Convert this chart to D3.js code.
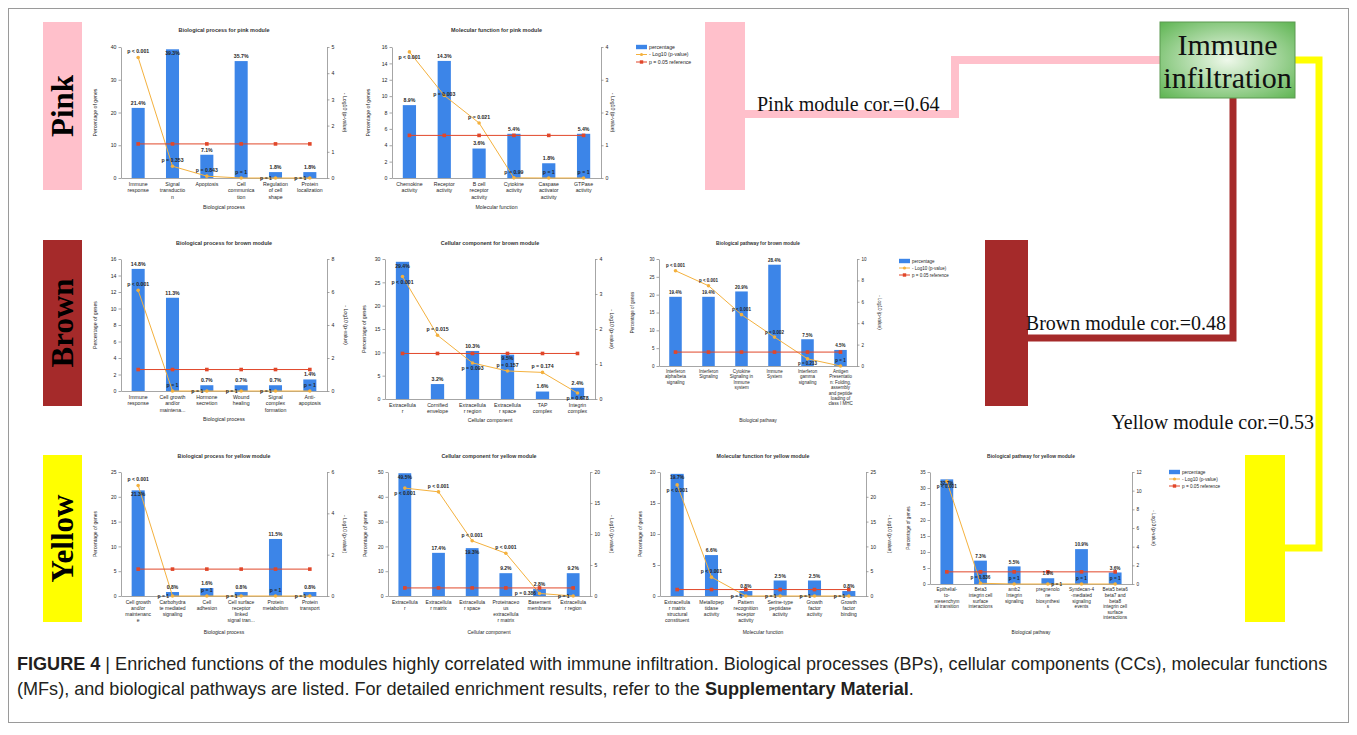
<!DOCTYPE html>
<html>
<head>
<meta charset="utf-8">
<script src="https://cdn.jsdelivr.net/npm/d3@7"></script>
<style>
  body { margin: 0; background: #fff; }
  svg { display: block; }
</style>
</head>
<body>
<svg id="fig" width="1357" height="735"></svg>
<script>
// ---------- data ----------
const pinkBpCats = ["Immune\nresponse", "Signal\ntransductio\nn", "Apoptosis", "Cell\ncommunica\ntion", "Regulation\nof cell\nshape", "Protein\nlocalization"];
const pinkBpPct = [21.4, 39.3, 7.1, 35.7, 1.8, 1.8];
const pinkBpLogP = [4.6, 0.45, 0.07, 0, 0, 0];
const pinkBpPText = ["p < 0.001", "p = 0.353", "p = 0.843", "p = 1", "p = 1", "p = 1"];

const pinkMfCats = ["Chemokine\nactivity", "Receptor\nactivity", "B cell\nreceptor\nactivity", "Cytokine\nactivity", "Caspase\nactivator\nactivity", "GTPase\nactivity"];
const pinkMfPct = [8.9, 14.3, 3.6, 5.4, 1.8, 5.4];
const pinkMfLogP = [3.85, 2.52, 1.68, 0.004, 0, 0];
const pinkMfPText = ["p < 0.001", "p = 0.003", "p = 0.021", "p = 0.99", "p = 1", "p = 1"];

const brownBpCats = ["Immune\nresponse", "Cell growth\nand/or\nmaintena...", "Hormone\nsecretion", "Wound\nhealing", "Signal\ncomplex\nformation", "Anti-\napoptosis"];
const brownBpPct = [14.8, 11.3, 0.7, 0.7, 0.7, 1.4];
const brownBpLogP = [6.1, 0, 0, 0, 0, 0];
const brownBpPText = ["p < 0.001", "p = 1", "p = 1", "p = 1", "p = 1", "p = 1"];

const brownCcCats = ["Extracellula\nr", "Cornified\nenvelope", "Extracellula\nr region", "Extracellula\nr space", "TAP\ncomplex", "Integrin\ncomplex"];
const brownCcPct = [29.4, 3.2, 10.3, 9.5, 1.6, 2.4];
const brownCcLogP = [3.5, 1.82, 1.03, 0.80, 0.76, 0.17];
const brownCcPText = ["p < 0.001", "p = 0.015", "p = 0.093", "p = 0.157", "p = 0.174", "p = 0.678"];

const brownPwCats = ["Interferon\nalpha/beta\nsignaling", "Interferon\nSignaling", "Cytokine\nSignaling in\nImmune\nsystem", "Immune\nSystem", "Interferon\ngamma\nsignaling", "Antigen\nPresentatio\nn: Folding,\nassembly\nand peptide\nloading of\nclass I MHC"];
const brownPwPct = [19.4, 19.4, 20.9, 28.4, 7.5, 4.5];
const brownPwLogP = [8.9, 7.5, 4.8, 2.7, 0.67, 0];
const brownPwPText = ["p < 0.001", "p < 0.001", "p < 0.001", "p = 0.002", "p = 0.213", "p = 1"];

const yellowBpCats = ["Cell growth\nand/or\nmaintenanc\ne", "Carbohydra\nte mediated\nsignaling", "Cell\nadhesion", "Cell surface\nreceptor\nlinked\nsignal tran...", "Protein\nmetabolism", "Protein\ntransport"];
const yellowBpPct = [21.3, 0.8, 1.6, 0.8, 11.5, 0.8];
const yellowBpLogP = [5.35, 0, 0, 0, 0, 0];
const yellowBpPText = ["p < 0.001", "p = 1", "p = 1", "p = 1", "p = 1", "p = 1"];

const yellowCcCats = ["Extracellula\nr", "Extracellula\nr matrix", "Extracellula\nr space", "Proteinaceo\nus\nextracellula\nr matrix", "Basement\nmembrane", "Extracellula\nr region"];
const yellowCcPct = [49.5, 17.4, 19.3, 9.2, 2.8, 9.2];
const yellowCcLogP = [17.4, 16.8, 8.9, 6.9, 0.41, 0];
const yellowCcPText = ["p < 0.001", "p < 0.001", "p < 0.001", "p < 0.001", "p = 0.386", "p = 1"];

const yellowMfCats = ["Extracellula\nr matrix\nstructural\nconstituent", "Metallopep\ntidase\nactivity", "Pattern\nrecognition\nreceptor\nactivity", "Serine-type\npeptidase\nactivity", "Growth\nfactor\nactivity", "Growth\nfactor\nbinding"];
const yellowMfPct = [19.7, 6.6, 0.8, 2.5, 2.5, 0.8];
const yellowMfLogP = [22.4, 3.8, 0, 0, 0, 0];
const yellowMfPText = ["p < 0.001", "p < 0.001", "p = 1", "p = 1", "p = 1", "p = 1"];

const yellowPwCats = ["Epithelial-\nto-\nmesenchym\nal transition", "Beta3\nintegrin cell\nsurface\ninteractions", "amb2\nIntegrin\nsignaling", "pregnenolo\nne\nbiosynthesi\ns", "Syndecan-4\n-mediated\nsignaling\nevents", "Beta5 beta6\nbeta7 and\nbeta8\nintegrin cell\nsurface\ninteractions"];
const yellowPwPct = [32.7, 7.3, 5.5, 1.8, 10.9, 3.6];
const yellowPwLogP = [11.0, 0.08, 0, 0, 0, 0];
const yellowPwPText = ["p < 0.001", "p = 0.836", "p = 1", "p = 1", "p = 1", "p = 1"];

const refP = 0.05;
const legendLabels = ["percentage", "- Log10 (p-value)", "p = 0.05 reference"];

const modules = ["Pink", "Brown", "Yellow"];
const moduleCors = ["Pink module cor.=0.64", "Brown module cor.=0.48", "Yellow module cor.=0.53"];

// ---------- style ----------
const BLUE = "#3c85e8", ORANGE = "#f4b13e", RED = "#e1472a";
const AXIS = "#8f8f8f", TXT = "#262626";
const SMALL = "'Liberation Sans', Arial, sans-serif";
const SERIF = "'Liberation Serif', 'Times New Roman', serif";
const CAPFONT = "'Liberation Sans', Arial, sans-serif";
const refLog = -Math.log10(refP);

const svg = d3.select("#fig");

// frame
svg.append("rect").attr("x", 8.5).attr("y", 8.5).attr("width", 1340).attr("height", 714)
  .attr("fill", "none").attr("stroke", "#9a9a9a").attr("stroke-width", 1);

// ---------- chart layouts ----------
const charts = [
  {title: "Biological process for pink module", xTitle: "Biological process", cats: pinkBpCats, pct: pinkBpPct, logp: pinkBpLogP, ptxt: pinkBpPText,
   l: 121, r: 327, t: 47, b: 178, yMax: 40, yStep: 10, rMax: 5, rStep: 1, titleY: 32, xTitleY: 209, fs: 5.2, lDx: -24, rDx: 16, pPos: "aaaall", inside: [1]},
  {title: "Molecular function for pink module", xTitle: "Molecular function", cats: pinkMfCats, pct: pinkMfPct, logp: pinkMfLogP, ptxt: pinkMfPText,
   l: 392, r: 601, t: 47, b: 178, yMax: 16, yStep: 2, rMax: 4, rStep: 1, titleY: 32, xTitleY: 209, fs: 5.2, lDx: -22, rDx: 10, pPos: "bcaaaa", inside: [], legend: [636, 47, 7.5]},
  {title: "Biological process for brown module", xTitle: "Biological process", cats: brownBpCats, pct: brownBpPct, logp: brownBpLogP, ptxt: brownBpPText,
   l: 121, r: 327, t: 259, b: 391, yMax: 16, yStep: 2, rMax: 8, rStep: 2, titleY: 245, xTitleY: 421, fs: 5.2, lDx: -24, rDx: 17, pPos: "aallla", inside: []},
  {title: "Cellular component for brown module", xTitle: "Cellular component", cats: brownCcCats, pct: brownCcPct, logp: brownCcLogP, ptxt: brownCcPText,
   l: 385, r: 595, t: 259, b: 399, yMax: 30, yStep: 5, rMax: 4, rStep: 1, titleY: 245, xTitleY: 422, fs: 5.2, lDx: -19, rDx: 15, pPos: "babaab", inside: [0, 3]},
  {title: "Biological pathway for brown module", xTitle: "Biological pathway", cats: brownPwCats, pct: brownPwPct, logp: brownPwLogP, ptxt: brownPwPText,
   l: 659, r: 857, t: 259, b: 366, yMax: 30, yStep: 5, rMax: 10, rStep: 2, titleY: 245, xTitleY: 422, fs: 4.5, lDx: -25, rDx: 21, pPos: "aaaaba", inside: [], legend: [899, 261, 7]},
  {title: "Biological process for yellow module", xTitle: "Biological process", cats: yellowBpCats, pct: yellowBpPct, logp: yellowBpLogP, ptxt: yellowBpPText,
   l: 121, r: 327, t: 472, b: 596, yMax: 25, yStep: 5, rMax: 6, rStep: 2, titleY: 458, xTitleY: 634, fs: 5, lDx: -24, rDx: 16, pPos: "alalal", inside: [0]},
  {title: "Cellular component for yellow module", xTitle: "Cellular component", cats: yellowCcCats, pct: yellowCcPct, logp: yellowCcLogP, ptxt: yellowCcPText,
   l: 388, r: 590, t: 472, b: 596, yMax: 50, yStep: 10, rMax: 20, rStep: 5, titleY: 458, xTitleY: 634, fs: 5, lDx: -21, rDx: 20, pPos: "baaall", inside: [0, 2]},
  {title: "Molecular function for yellow module", xTitle: "Molecular function", cats: yellowMfCats, pct: yellowMfPct, logp: yellowMfLogP, ptxt: yellowMfPText,
   l: 660, r: 866, t: 472, b: 596, yMax: 20, yStep: 5, rMax: 25, rStep: 5, titleY: 458, xTitleY: 634, fs: 5, lDx: -18, rDx: 22, pPos: "ballll", inside: [0]},
  {title: "Biological pathway for yellow module", xTitle: "Biological pathway", cats: yellowPwCats, pct: yellowPwPct, logp: yellowPwLogP, ptxt: yellowPwPText,
   l: 930, r: 1132, t: 472, b: 584, yMax: 35, yStep: 5, rMax: 12, rStep: 2, titleY: 458, xTitleY: 634, fs: 4.7, lDx: -20, rDx: 20, pPos: "baaraa", inside: [0], legend: [1169, 472, 7]}
];

function styleAxis(sel, fs) {
  sel.select(".domain").attr("stroke", AXIS).attr("stroke-width", 0.8);
  sel.selectAll(".tick line").attr("stroke", AXIS).attr("stroke-width", 0.8);
  sel.selectAll(".tick text").attr("fill", TXT).attr("font-size", fs).attr("font-family", SMALL);
}

function drawChart(c) {
  const g = svg.append("g");
  const fs = c.fs;
  const idx = d3.range(c.cats.length);
  const x = d3.scaleBand().domain(idx).range([c.l, c.r]).paddingInner(0.62).paddingOuter(0.31);
  const y = d3.scaleLinear().domain([0, c.yMax]).range([c.b, c.t]);
  const yR = d3.scaleLinear().domain([0, c.rMax]).range([c.b, c.t]);
  const cx = i => x(i) + x.bandwidth() / 2;

  // title
  g.append("text").attr("x", (c.l + c.r) / 2).attr("y", c.titleY).attr("text-anchor", "middle")
    .attr("font-size", fs * 1.05).attr("font-weight", "bold").attr("font-family", SMALL).attr("fill", "#333")
    .text(c.title);

  // bars
  g.selectAll("rect.bar").data(c.pct).join("rect").attr("class", "bar")
    .attr("x", (d, i) => x(i)).attr("y", d => y(d))
    .attr("width", x.bandwidth()).attr("height", d => c.b - y(d))
    .attr("fill", BLUE);

  // axes
  g.append("g").attr("transform", `translate(${c.l},0)`)
    .call(d3.axisLeft(y).tickValues(d3.range(0, c.yMax + 1e-9, c.yStep)).tickFormat(d3.format("d"))
      .tickSize(2.5).tickSizeOuter(0).tickPadding(2))
    .call(s => styleAxis(s, fs));
  g.append("g").attr("transform", `translate(${c.r},0)`)
    .call(d3.axisRight(yR).tickValues(d3.range(0, c.rMax + 1e-9, c.rStep)).tickFormat(d3.format("d"))
      .tickSize(2.5).tickSizeOuter(0).tickPadding(2))
    .call(s => styleAxis(s, fs));
  const xa = g.append("g").attr("transform", `translate(0,${c.b})`)
    .call(d3.axisBottom(x).tickSize(0).tickSizeOuter(0).tickPadding(0))
    .call(s => styleAxis(s, fs));
  const lh = fs * 1.2;
  xa.selectAll(".tick text").each(function (i) {
    const t = d3.select(this).attr("dy", null).attr("y", null).text(null);
    c.cats[i].split("\n").forEach((line, k) => {
      t.append("tspan").attr("x", 0).attr("y", fs * 1.55 + k * lh).text(line);
    });
  });

  // axis titles
  g.append("text").attr("transform", `translate(${c.l + c.lDx},${(c.t + c.b) / 2}) rotate(-90)`)
    .attr("text-anchor", "middle").attr("font-size", fs).attr("font-family", SMALL).attr("fill", TXT)
    .text("Percentage of genes");
  g.append("text").attr("transform", `translate(${c.r + c.rDx},${(c.t + c.b) / 2}) rotate(90)`)
    .attr("text-anchor", "middle").attr("font-size", fs).attr("font-family", SMALL).attr("fill", TXT)
    .text("- Log10 (p-value)");
  g.append("text").attr("x", (c.l + c.r) / 2).attr("y", c.xTitleY).attr("text-anchor", "middle")
    .attr("font-size", fs).attr("font-family", SMALL).attr("fill", TXT).text(c.xTitle);

  // -log10 p line
  const line = d3.line().x((d, i) => cx(i)).y(d => yR(d));
  g.append("path").datum(c.logp).attr("d", line).attr("fill", "none").attr("stroke", ORANGE).attr("stroke-width", 1);
  g.selectAll("circle.pt").data(c.logp).join("circle").attr("class", "pt")
    .attr("cx", (d, i) => cx(i)).attr("cy", d => yR(d)).attr("r", 1.8).attr("fill", ORANGE);

  // reference line
  const ref = c.cats.map(() => refLog);
  g.append("path").datum(ref).attr("d", line).attr("fill", "none").attr("stroke", RED).attr("stroke-width", 1);
  g.selectAll("rect.ref").data(ref).join("rect").attr("class", "ref")
    .attr("x", (d, i) => cx(i) - 1.8).attr("y", d => yR(d) - 1.8).attr("width", 3.6).attr("height", 3.6).attr("fill", RED);

  // bar value labels
  g.selectAll("text.val").data(c.pct).join("text").attr("class", "val")
    .attr("x", (d, i) => cx(i))
    .attr("y", (d, i) => c.inside.includes(i) ? y(d) + fs * 1.1 : y(d) - fs * 0.6)
    .attr("text-anchor", "middle").attr("font-size", fs).attr("font-weight", "bold")
    .attr("font-family", SMALL).attr("fill", TXT)
    .text(d => d3.format(".1f")(d) + "%");

  // p labels
  g.selectAll("text.pl").data(c.ptxt).join("text").attr("class", "pl")
    .each(function (d, i) {
      const pos = c.pPos[i];
      const px = cx(i), py = yR(c.logp[i]);
      const t = d3.select(this);
      if (pos === "a") t.attr("x", px).attr("y", py - fs * 0.8).attr("text-anchor", "middle");
      else if (pos === "b") t.attr("x", px).attr("y", py + fs * 1.4).attr("text-anchor", "middle");
      else if (pos === "c") t.attr("x", px).attr("y", py + fs * 0.1).attr("text-anchor", "middle");
      else if (pos === "l") t.attr("x", px - 3.5).attr("y", py + fs * 0.35).attr("text-anchor", "end");
      else t.attr("x", px + 3.5).attr("y", py + fs * 0.35).attr("text-anchor", "start");
    })
    .attr("font-size", fs).attr("font-weight", "bold").attr("font-family", SMALL).attr("fill", TXT)
    .text(d => d);

  // legend
  if (c.legend) {
    const [lx, ly, step] = c.legend;
    const lg = g.append("g").attr("transform", `translate(${lx},${ly})`);
    legendLabels.forEach((lab, k) => {
      const yy = k * step;
      if (k === 0) lg.append("rect").attr("x", 0).attr("y", yy - 2.2).attr("width", 11).attr("height", 4.4).attr("fill", BLUE);
      else {
        const col = k === 1 ? ORANGE : RED;
        lg.append("line").attr("x1", 0).attr("x2", 11).attr("y1", yy).attr("y2", yy).attr("stroke", col).attr("stroke-width", 1);
        if (k === 1) lg.append("circle").attr("cx", 5.5).attr("cy", yy).attr("r", 1.6).attr("fill", col);
        else lg.append("rect").attr("x", 3.8).attr("y", yy - 1.7).attr("width", 3.4).attr("height", 3.4).attr("fill", col);
      }
      lg.append("text").attr("x", 13).attr("y", yy + fs * 0.35).attr("font-size", fs)
        .attr("font-family", SMALL).attr("fill", TXT).text(lab);
    });
  }
}

charts.forEach(drawChart);

// ---------- module banners and connectors ----------
const PINK = "#ffc0cb", BROWN = "#a52a2a", YELLOW = "#ffff00";
const bannerColors = [PINK, BROWN, YELLOW];
const bannerY = [[22, 190], [240, 406], [455, 622]];

modules.forEach((m, k) => {
  const [y0, y1] = bannerY[k];
  svg.append("rect").attr("x", 43).attr("y", y0).attr("width", 39).attr("height", y1 - y0).attr("fill", bannerColors[k]);
  svg.append("text").attr("transform", `translate(${73},${(y0 + y1) / 2}) rotate(-90)`)
    .attr("text-anchor", "middle").attr("font-family", SERIF).attr("font-weight", "bold")
    .attr("font-size", 31).attr("fill", "#000").text(m);
});

// right-hand module blocks
svg.append("rect").attr("x", 705).attr("y", 22).attr("width", 40).attr("height", 168).attr("fill", PINK);
svg.append("rect").attr("x", 985).attr("y", 240).attr("width", 43).attr("height", 166).attr("fill", BROWN);
svg.append("rect").attr("x", 1245).attr("y", 455).attr("width", 40).attr("height", 167).attr("fill", YELLOW);

// connectors
svg.append("path").attr("d", "M745,114 H955 V60 H1162").attr("fill", "none").attr("stroke", PINK).attr("stroke-width", 8);
svg.append("path").attr("d", "M1233,98 V338 H1026").attr("fill", "none").attr("stroke", BROWN).attr("stroke-width", 7);
svg.append("path").attr("d", "M1293,60 H1319 V548 H1283").attr("fill", "none").attr("stroke", YELLOW).attr("stroke-width", 7);

// immune infiltration box
const defs = svg.append("defs");
const rg = defs.append("radialGradient").attr("id", "gbox").attr("cx", "50%").attr("cy", "50%").attr("r", "70%");
rg.append("stop").attr("offset", "0%").attr("stop-color", "#eef8ea");
rg.append("stop").attr("offset", "100%").attr("stop-color", "#5fb553");
svg.append("rect").attr("x", 1160).attr("y", 22).attr("width", 135).attr("height", 76)
  .attr("fill", "url(#gbox)").attr("stroke", "#5c9a52").attr("stroke-width", 1);
svg.append("text").attr("x", 1227.5).attr("y", 55).attr("text-anchor", "middle")
  .attr("font-family", SERIF).attr("font-size", 30).attr("fill", "#111").text("Immune");
svg.append("text").attr("x", 1227.5).attr("y", 88).attr("text-anchor", "middle")
  .attr("font-family", SERIF).attr("font-size", 30).attr("fill", "#111").text("infiltration");

// correlation labels
svg.append("text").attr("x", 757).attr("y", 111).attr("font-family", SERIF).attr("font-size", 20).attr("fill", "#111").text(moduleCors[0]);
svg.append("text").attr("x", 1226).attr("y", 330).attr("text-anchor", "end").attr("font-family", SERIF).attr("font-size", 20).attr("fill", "#111").text(moduleCors[1]);
svg.append("text").attr("x", 1314).attr("y", 429).attr("text-anchor", "end").attr("font-family", SERIF).attr("font-size", 20).attr("fill", "#111").text(moduleCors[2]);

// ---------- caption (condensed by a horizontal scale, like the journal's narrow face) ----------
const capG1 = svg.append("g").attr("transform", "translate(17,670)");
const cap1 = capG1.append("text").attr("font-family", CAPFONT).attr("font-size", 17.5).attr("fill", "#231f20");
cap1.append("tspan").attr("font-weight", "bold").text("FIGURE 4");
cap1.append("tspan").text(" | Enriched functions of the modules highly correlated with immune infiltration. Biological processes (BPs), cellular components (CCs), molecular functions");
const capG2 = svg.append("g").attr("transform", "translate(17,695)");
const cap2 = capG2.append("text").attr("font-family", CAPFONT).attr("font-size", 17.5).attr("fill", "#231f20");
cap2.append("tspan").text("(MFs), and biological pathways are listed. For detailed enrichment results, refer to the ");
cap2.append("tspan").attr("font-weight", "bold").text("Supplementary Material");
cap2.append("tspan").text(".");
const sx = 1311 / cap1.node().getComputedTextLength();
capG1.attr("transform", `translate(17,670) scale(${sx},1)`);
capG2.attr("transform", `translate(17,695) scale(${sx},1)`);
</script>
</body>
</html>
